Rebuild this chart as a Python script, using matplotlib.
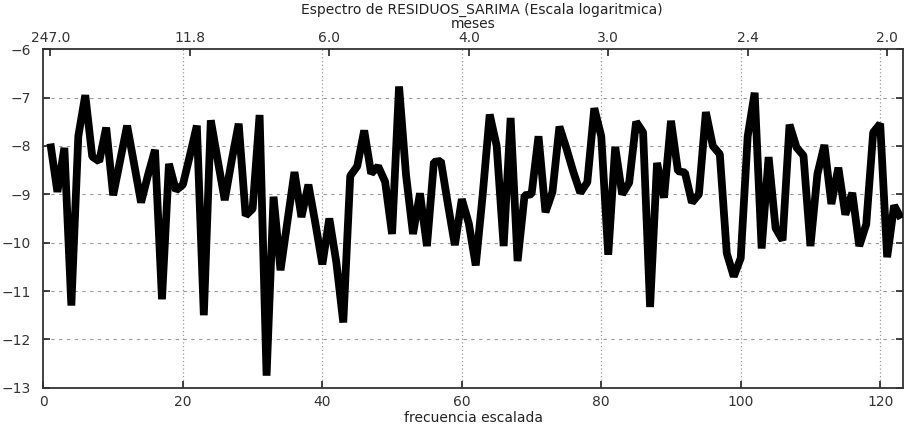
import matplotlib
matplotlib.use("Agg")
import matplotlib.pyplot as plt
import numpy as np

# log spectrum of the SARIMA residuals, frequencies 1..123
freq = np.arange(1, 124)
log_spec = [
    -7.95, -8.95, -8.04, -11.30, -7.80, -6.95, -8.22, -8.32, -7.62, -9.02,
    -8.30, -7.58, -8.37, -9.17, -8.60, -8.08, -11.17, -8.37, -8.92, -8.80,
    -8.20, -7.58, -11.50, -7.47, -8.30, -9.12, -8.30, -7.54, -9.44, -9.30,
    -7.36, -12.75, -9.05, -10.57, -9.55, -8.54, -9.47, -8.80, -9.60, -10.45,
    -9.50, -10.40, -11.65, -8.62, -8.42, -7.68, -8.57, -8.42, -8.74, -9.82,
    -6.77, -8.60, -9.82, -8.98, -10.07, -8.33, -8.31, -9.20, -10.05, -9.10,
    -9.60, -10.47, -9.00, -7.35, -8.00, -10.07, -7.42, -10.38, -9.02, -9.00,
    -7.80, -9.37, -8.95, -7.60, -8.05, -8.54, -8.97, -8.75, -7.22, -7.80,
    -10.25, -8.02, -9.00, -8.76, -7.50, -7.72, -11.33, -8.35, -9.07, -7.48,
    -8.52, -8.55, -9.17, -9.00, -7.30, -8.00, -8.17, -10.22, -10.70, -10.32,
    -7.80, -6.90, -10.12, -8.23, -9.70, -9.95, -7.56, -8.03, -8.20, -10.07,
    -8.58, -7.98, -9.20, -8.45, -9.42, -8.97, -10.07, -9.62, -7.72, -7.54,
    -10.30, -9.23, -9.50,
]

# periods in months shown on the top axis
top_ticks = [1, 21, 41, 61, 81, 101, 121]
top_labels = ["247.0", "11.8", "6.0", "4.0", "3.0", "2.4", "2.0"]

plt.rcParams["font.family"] = ["DejaVu Sans"]
plt.rcParams["font.size"] = 10

fig = plt.figure(figsize=(9.05, 4.28), dpi=100)
ax = fig.add_axes([0.048, 0.094, 0.950, 0.791])

ax.plot(freq, log_spec, color="black", lw=5.6, solid_joinstyle="bevel",
        solid_capstyle="butt", zorder=3)

ax.set_xlim(0, 123.3)
ax.set_ylim(-13, -6)
ax.set_xticks(np.arange(0, 121, 20))
ax.set_yticks(np.arange(-13, -5, 1))

ax.grid(False)
for y in range(-12, -6):
    ax.axhline(y, color="#999999", lw=0.8, ls=(0, (3, 4)), zorder=1)
for x in range(20, 121, 20):
    ax.axvline(x, color="#999999", lw=0.9, ls=(0, (1, 2)), zorder=1)

ax.tick_params(axis="both", direction="in", length=5, width=1.2,
               colors="#222222", labelcolor="#333333")
ax.tick_params(axis="x", top=False, pad=5)
ax.tick_params(axis="y", right=True, pad=9)
for s in ax.spines.values():
    s.set_color("#333333")
    s.set_linewidth(1.3)

ax.set_xlabel("frecuencia escalada", color="#222222", labelpad=2)

ax2 = ax.twiny()
ax2.set_xlim(ax.get_xlim())
ax2.set_xticks(top_ticks)
ax2.set_xticklabels(top_labels)
ax2.tick_params(axis="x", direction="in", length=5, width=1.2,
                colors="#222222", labelcolor="#333333", pad=3)
for s in ax2.spines.values():
    s.set_visible(False)
ax2.set_xlabel("meses", color="#222222", labelpad=2.5)

fig.text(0.532, 0.977, "Espectro de RESIDUOS_SARIMA (Escala logaritmica)",
         ha="center", va="center", color="#222222", fontsize=10)

fig.savefig("out.png", dpi=100)
